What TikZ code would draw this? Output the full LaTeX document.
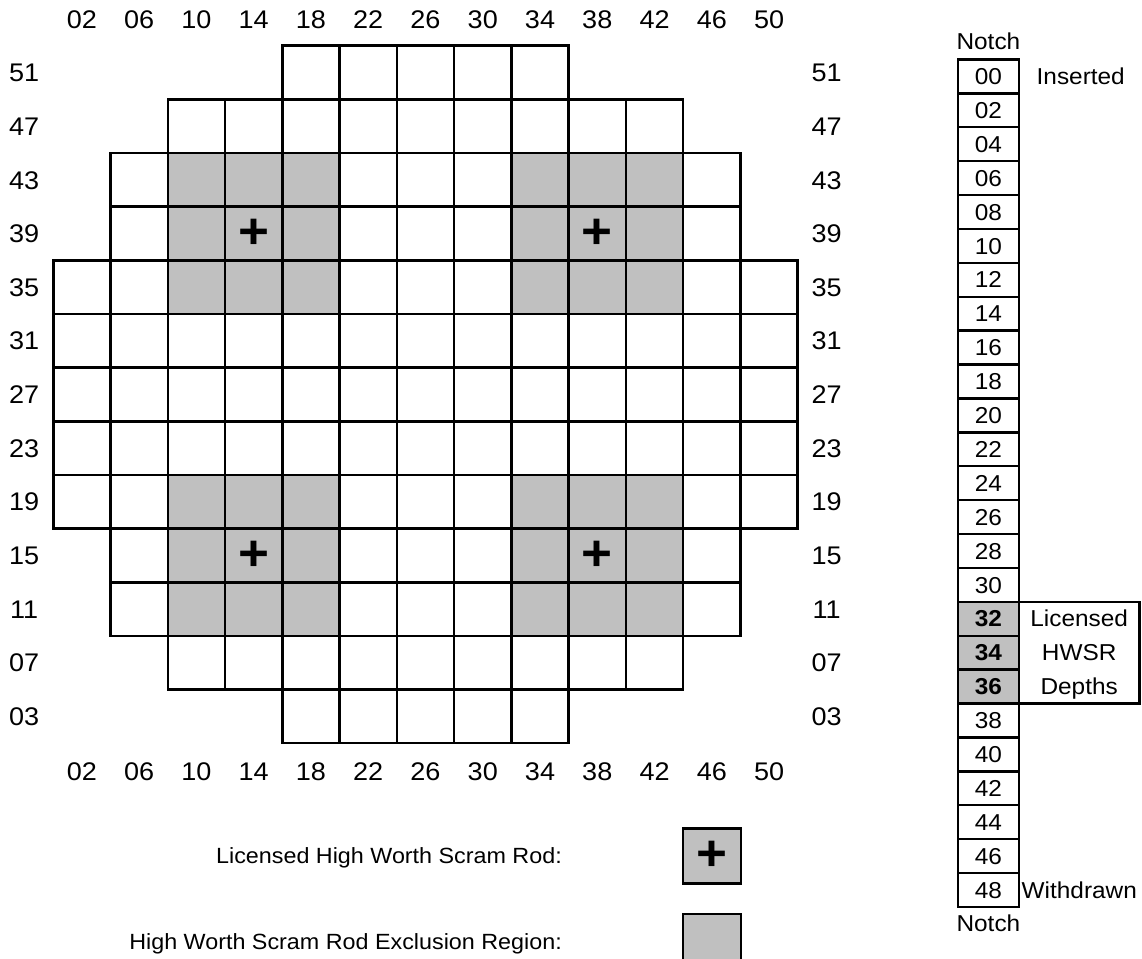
\documentclass[tikz,border=0pt]{standalone}
\usepackage{fontspec}
\setmainfont[FakeStretch=1.06]{Liberation Sans}
\definecolor{hw}{HTML}{C0C0C0}
\begin{document}
\begin{tikzpicture}[x=1pt,y=-1pt,
  cell/.style={draw=black,line width=2.4pt,rectangle,minimum width=57.26pt,minimum height=53.66pt,inner sep=0pt,fill=#1},
  cell/.default=white,
  glab/.style={font=\fontsize{25.5}{30}\selectfont,inner sep=0pt,text height=18.3pt,text depth=0pt},
  nbox/.style={draw=black,line width=2.4pt,rectangle,minimum width=61.3pt,minimum height=33.9pt,inner sep=0pt,fill=#1,
    font=\fontsize{23}{27}\selectfont,text height=16.4pt,text depth=0pt},
  nbox/.default=white,
  ntxt/.style={font=\fontsize{23}{27}\selectfont,inner sep=0pt,text height=16.4pt,text depth=0pt},
  ltxt/.style={font=\fontsize{22}{26}\selectfont,inner sep=0pt,text height=15.7pt,text depth=0pt,anchor=east},
  plus/.style={font=\fontsize{50}{50}\selectfont\bfseries,inner sep=0pt},
  legbox/.style={draw=black,line width=2.4pt,rectangle,minimum width=58.3pt,minimum height=55pt,inner sep=0pt,fill=hw}
]
\useasboundingbox (0,0) rectangle (1142,958);
% core grid
\foreach \r/\a/\b in {0/4/8,1/2/10,2/1/11,3/1/11,4/0/12,5/0/12,6/0/12,7/0/12,8/0/12,9/1/11,10/1/11,11/2/10,12/4/8}{
  \foreach \c in {\a,...,\b}{
    \pgfmathtruncatemacro\sh{and(or(and(\r>=2,\r<=4),and(\r>=8,\r<=10)),or(and(\c>=2,\c<=4),and(\c>=8,\c<=10)))}
    \ifnum\sh=1 \def\fc{hw}\else\def\fc{white}\fi
    \node[cell=\fc] (cell-\r-\c) at ({53.3+57.26*(\c+0.5)},{45.7+53.66*(\r+0.5)}) {};
  }
}
% HWSR marks
\node[plus] (p1) at (cell-3-3) {+};
\node[plus] (p2) at (cell-3-9) {+};
\node[plus] (p3) at (cell-9-3) {+};
\node[plus] (p4) at (cell-9-9) {+};
% column labels
\foreach \c/\t in {0/02,1/06,2/10,3/14,4/18,5/22,6/26,7/30,8/34,9/38,10/42,11/46,12/50}{
  \node[glab] (ct-\c) at ({53.3+57.26*(\c+0.5)},19.2) {\t};
  \node[glab] (cb-\c) at ({53.3+57.26*(\c+0.5)},771) {\t};
}
% row labels
\foreach \r/\t in {0/51,1/47,2/43,3/39,4/35,5/31,6/27,7/23,8/19,9/15,10/11,11/07,12/03}{
  \node[glab] (rl-\r) at (24.2,{45.7+53.66*(\r+0.5)}) {\t};
  \node[glab] (rr-\r) at (826.7,{45.7+53.66*(\r+0.5)}) {\t};
}
% notch column
\node[ntxt] (notchtop) at (988.4,41.7) {Notch};
\foreach \k/\t in {0/00,1/02,2/04,3/06,4/08,5/10,6/12,7/14,8/16,9/18,10/20,11/22,12/24,13/26,14/28,15/30,19/38,20/40,21/42,22/44,23/46,24/48}{
  \node[nbox] (n-\k) at (988.4,{59.4+33.9*(\k+0.5)}) {\t};
}
\foreach \k/\t in {16/32,17/34,18/36}{
  \node[nbox=hw,font=\fontsize{23}{27}\selectfont\bfseries] (n-\k) at (988.4,{59.4+33.9*(\k+0.5)}) {\t};
}
\node[ntxt] (notchbot) at (988.4,923.3) {Notch};
\node[ntxt,anchor=west] (ins) at (1036.5,{59.4+33.9*0.5}) {Inserted};
\node[ntxt,anchor=west] (wd) at (1021.5,{59.4+33.9*24.5}) {Withdrawn};
\node[draw=black,line width=2.4pt,rectangle,minimum width=120.3pt,minimum height=101.7pt,inner sep=0pt] (lic) at (1079.15,{59.4+33.9*17.5}) {};
\node[ntxt] (lic1) at (1079.15,{59.4+33.9*16.5}) {Licensed};
\node[ntxt] (lic2) at (1079.15,{59.4+33.9*17.5}) {HWSR};
\node[ntxt] (lic3) at (1079.15,{59.4+33.9*18.5}) {Depths};
% legend
\node[ltxt] (leg1) at (562,855.8) {Licensed High Worth Scram Rod:};
\node[legbox] (lb1) at (711.85,855.8) {};
\node[plus] (lp) at (lb1) {+};
\node[ltxt] (leg2) at (562,941.5) {High Worth Scram Rod Exclusion Region:};
\node[legbox] (lb2) at (711.85,941.5) {};
\end{tikzpicture}
\end{document}
